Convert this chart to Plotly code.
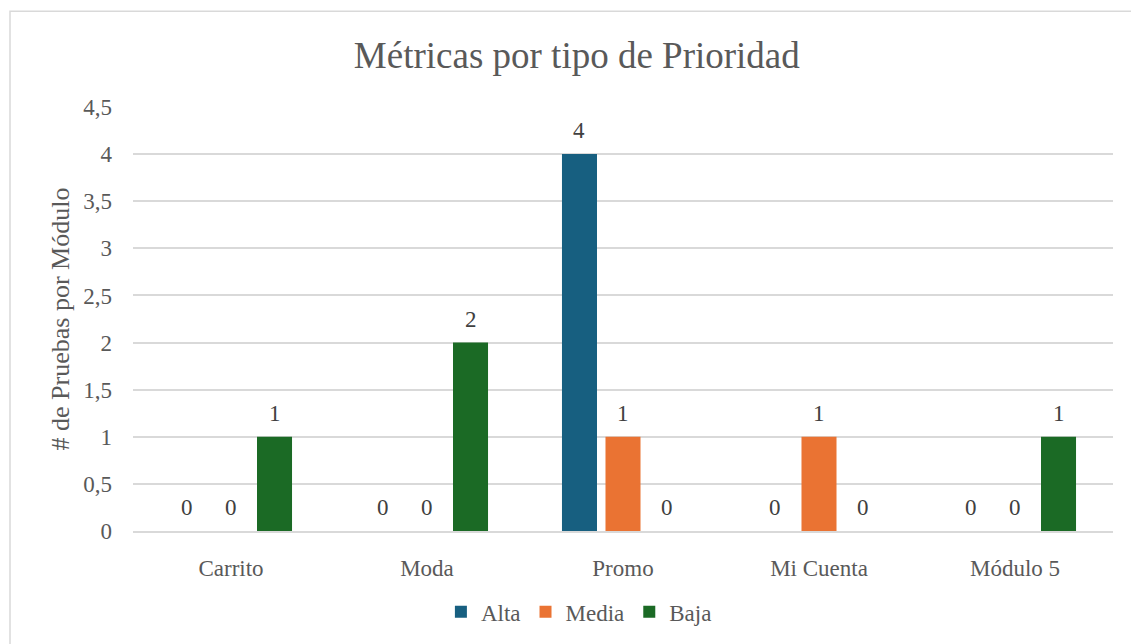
import plotly.graph_objects as go

# Test counts per module, split by priority
modulos = ["Carrito", "Moda", "Promo", "Mi Cuenta", "Módulo 5"]
alta = [0, 0, 4, 0, 0]
media = [0, 0, 1, 1, 0]
baja = [1, 2, 0, 0, 1]

series = [
    ("Alta", alta, "#175F80"),
    ("Media", media, "#EA7333"),
    ("Baja", baja, "#1B6A25"),
]

SERIF = "Liberation Serif"
GRAY = "#595959"

BARGAP = 0.334
BARGROUPGAP = 0.195

fig = go.Figure()
for nombre, valores, color in series:
    fig.add_trace(go.Bar(
        name=nombre,
        x=modulos,
        y=valores,
        marker=dict(color=color, line=dict(width=0)),
    ))

# Value labels above each bar, placed at the grouped bar centres
n_series = len(series)
slot = (1 - BARGAP) / n_series
for k, (nombre, valores, color) in enumerate(series):
    offset = (k - (n_series - 1) / 2) * slot
    for i, v in enumerate(valores):
        fig.add_annotation(
            x=i + offset, y=v,
            xref="x", yref="y",
            text=str(v),
            showarrow=False,
            yanchor="bottom",
            yshift=9,
            font=dict(family=SERIF, size=23, color="#404040"),
        )

fig.update_layout(
    width=1131,
    height=644,
    margin=dict(l=133, r=18, t=107, b=112),
    paper_bgcolor="white",
    plot_bgcolor="white",
    separators=",.",
    barmode="group",
    bargap=BARGAP,
    bargroupgap=BARGROUPGAP,
    font=dict(family=SERIF, color=GRAY, size=23),
    title=dict(
        text="Métricas por tipo de Prioridad",
        font=dict(family=SERIF, size=37, color=GRAY),
        x=0.51, xanchor="center",
        y=1 - 55 / 644, yanchor="middle",
    ),
    legend=dict(
        orientation="h",
        x=0.455, xanchor="center",
        y=-0.188, yanchor="middle",
        font=dict(family=SERIF, size=23, color=GRAY),
        itemwidth=30,
        traceorder="normal",
    ),
    showlegend=True,
)

fig.update_yaxes(
    range=[0, 4.5],
    dtick=0.5,
    tick0=0,
    showgrid=True,
    gridcolor="#D9D9D9",
    gridwidth=1.5,
    zeroline=False,
    showline=False,
    ticks="",
    ticklabelstandoff=20,
    tickfont=dict(family=SERIF, size=23, color=GRAY),
    title=dict(
        text="# de Pruebas por Módulo",
        font=dict(family=SERIF, size=26, color=GRAY),
        standoff=6,
    ),
)

fig.update_xaxes(
    type="category",
    showgrid=False,
    showline=True,
    linecolor="#D9D9D9",
    linewidth=1.5,
    ticks="",
    ticklabelstandoff=16,
    tickfont=dict(family=SERIF, size=23, color=GRAY),
)

# Chart area frame
fig.add_shape(
    type="rect",
    xref="paper", yref="paper",
    x0=(10 - 133) / 980, x1=(1140 - 133) / 980,
    y0=(532 - 660) / 425, y1=(532 - 11) / 425,
    line=dict(color="#D9D9D9", width=1.5),
    fillcolor="rgba(0,0,0,0)",
    layer="below",
)

fig.write_html("out.html")
